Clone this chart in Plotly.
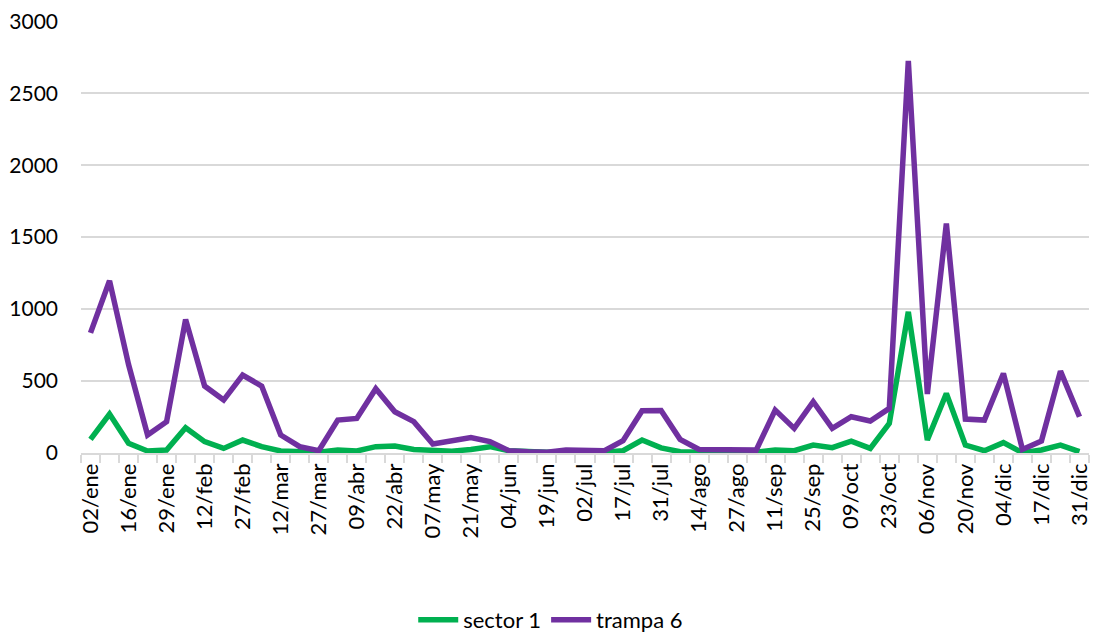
import plotly.graph_objects as go

dates = ["02/ene", "09/ene", "16/ene", "22/ene", "29/ene", "05/feb", "12/feb", "20/feb",
         "27/feb", "05/mar", "12/mar", "20/mar", "27/mar", "02/abr", "09/abr", "16/abr",
         "22/abr", "30/abr", "07/may", "14/may", "21/may", "28/may", "04/jun", "11/jun",
         "19/jun", "26/jun", "02/jul", "10/jul", "17/jul", "24/jul", "31/jul", "07/ago",
         "14/ago", "21/ago", "27/ago", "04/sep", "11/sep", "18/sep", "25/sep", "02/oct",
         "09/oct", "16/oct", "23/oct", "30/oct", "06/nov", "13/nov", "20/nov", "27/nov",
         "04/dic", "11/dic", "17/dic", "24/dic", "31/dic"]

sector_1 = [95, 271, 67, 14, 21, 176, 79, 32, 90, 44, 14, 5, 5, 21, 14, 44,
            49, 25, 16, 12, 25, 44, 16, 8, 6, 6, 6, 6, 16, 90, 36, 9,
            5, 5, 5, 5, 20, 16, 55, 37, 83, 32, 206, 981, 90, 414, 55, 16,
            72, 2, 21, 55, 9]

trampa_6 = [835, 1197, 615, 125, 218, 928, 465, 368, 542, 465, 125, 44, 16, 229, 240, 447,
            287, 218, 62, 86, 107, 79, 16, 9, 6, 20, 20, 15, 86, 294, 296, 95,
            25, 25, 16, 20, 298, 171, 357, 171, 252, 222, 310, 2725, 410, 1595, 236, 229,
            553, 25, 83, 569, 252]

tick_text = [d if i % 2 == 0 else "" for i, d in enumerate(dates)]

FONT = "Lato"

fig = go.Figure()
fig.add_trace(go.Scatter(x=dates, y=sector_1, mode="lines", name="sector 1",
                         line=dict(color="#00B050", width=5.5)))
fig.add_trace(go.Scatter(x=dates, y=trampa_6, mode="lines", name="trampa 6",
                         line=dict(color="#7030A0", width=5.5)))

fig.update_layout(
    width=1096, height=634,
    margin=dict(l=81, r=7, t=21, b=181),
    paper_bgcolor="white", plot_bgcolor="white",
    font=dict(family=FONT, size=21, color="#000000"),
    showlegend=True,
    legend=dict(orientation="h", x=0.466, xanchor="center",
                yref="container", y=0.022, yanchor="middle",
                font=dict(size=22), itemwidth=40),
    xaxis=dict(type="category", range=[-0.5, len(dates) - 0.5],
               tickmode="array", tickvals=dates, ticktext=tick_text,
               tickangle=-90, tickson="boundaries", ticks="outside", ticklen=8,
               tickcolor="#D9D9D9", tickwidth=1.5,
               showline=True, linecolor="#D9D9D9", linewidth=1.5,
               showgrid=False, tickfont=dict(size=22), automargin=False,
               ticklabeloverflow="allow"),
    yaxis=dict(range=[0, 3002], tickvals=[0, 500, 1000, 1500, 2000, 2500, 3000],
               showgrid=True, gridcolor="#D9D9D9", gridwidth=1.5,
               zeroline=False, showline=False, ticks="", ticklen=0,
               tickfont=dict(size=21), automargin=False, ticklabeloverflow="allow"),
)
fig.update_yaxes(ticklabelstandoff=22)

fig.write_html("out.html", config={"displayModeBar": False},
               post_script="document.body.style.margin='0px';document.body.style.overflow='hidden';")
